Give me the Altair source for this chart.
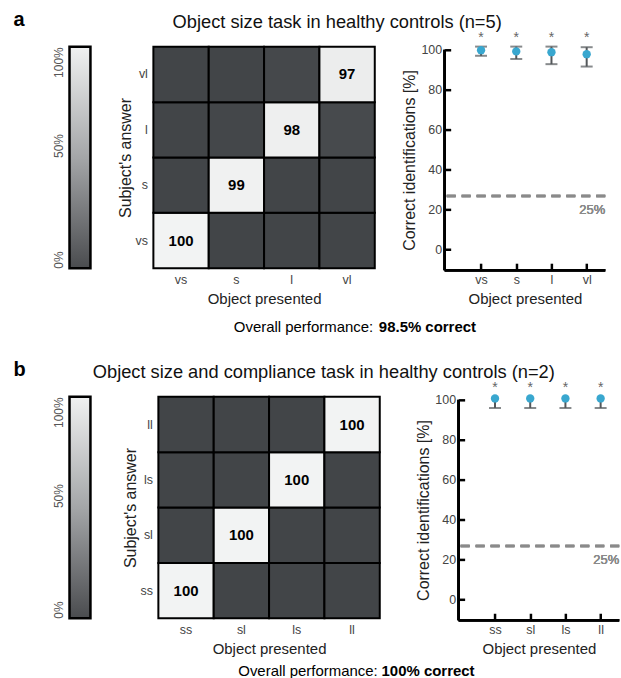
import altair as alt
import pandas as pd

# ---------------- data ----------------
cats_a = ["vs", "s", "l", "vl"]
cats_b = ["ss", "sl", "ls", "ll"]

# confusion matrices (percent); rows = subject's answer, columns = object presented
conf_a = [
    [100, 0, 0, 0],   # answer vs
    [0, 99, 0, 0],    # answer s
    [0, 1, 98, 3],    # answer l
    [0, 0, 2, 97],    # answer vl
]
conf_b = [
    [100, 0, 0, 0],   # answer ss
    [0, 100, 0, 0],   # answer sl
    [0, 0, 100, 0],   # answer ls
    [0, 0, 0, 100],   # answer ll
]

# correct identifications (mean, upper and lower whisker)
mean_a = [99.8, 99.2, 98.8, 97.8]
upper_a = [101.6, 101.6, 101.6, 101.3]
lower_a = [97.0, 95.4, 92.8, 91.6]
mean_b = [100.7, 100.7, 100.7, 100.7]
upper_b = [100.7, 100.7, 100.7, 100.7]
lower_b = [95.9, 95.9, 95.9, 95.9]

chance_level = 26.7
chance_text = "25%"
star_level = 106
y_ticks = [0, 20, 40, 60, 80, 100]
colorbar_ticks = [0, 50, 100]

title_a = "Object size task in healthy controls (n=5)"
title_b = "Object size and compliance task in healthy controls (n=2)"
overall_label = "Overall performance:"
overall_a = "98.5% correct"
overall_b = "100% correct"

FONT = "Liberation Sans"
GRID = 222
SC_W = 161
SC_H = 224
CB_W = 21
DARK = "#424548"
LIGHT = "#f2f3f3"
ERR = "#54585b"
DOT = "#39a7cf"


def colorbar(label, title, title_x):
    df = pd.DataFrame({"lo": [0], "hi": [100]})
    grad = alt.LinearGradient(
        gradient="linear",
        stops=[alt.GradientStop(color="#4a4c4f", offset=0),
               alt.GradientStop(color="#a4a6a8", offset=0.5),
               alt.GradientStop(color="#f0f1f1", offset=1)],
        x1=0, x2=0, y1=1, y2=0,
    )
    return alt.Chart(df).mark_rect(fill=grad, stroke="black", strokeWidth=2.5).encode(
        x=alt.X("lo:Q", scale=alt.Scale(domain=[0, 100], nice=False),
                axis=alt.Axis(orient="top", labels=False, ticks=False, domain=False, grid=False,
                              title=title, titleX=title_x, titleY=-19.4, titleAlign="center",
                              titleBaseline="alphabetic", titleFontSize=18.3,
                              titleFontWeight="normal", titleColor="#111", titleLimit=1000)),
        x2="hi:Q",
        y=alt.Y("lo:Q", scale=alt.Scale(domain=[0, 100], nice=False),
                axis=alt.Axis(values=colorbar_ticks, labelExpr="datum.value + '%'",
                              domain=False, ticks=False, grid=False,
                              labelAngle=270,
                              labelAlign=alt.condition("datum.value == 100", alt.value("right"), alt.value("left")),
                              labelBaseline="bottom", labelPadding=4, labelFontSize=12,
                              labelColor="#555", labelOverlap=False,
                              title=label, titleAngle=0, titleX=-56.7, titleY=-21,
                              titleAlign="left", titleBaseline="alphabetic", titleFontSize=20,
                              titleFontWeight="bold", titleColor="black")),
        y2="hi:Q",
    ).properties(width=CB_W, height=GRID)


def heatmap(cats, conf, hw, overall_dx, overall_offset):
    rows = []
    for i, ans in enumerate(cats):
        for j, pres in enumerate(cats):
            rows.append({"presented": pres, "answer": ans, "value": conf[i][j]})
    df = pd.DataFrame(rows)
    base = alt.Chart(df).encode(
        x=alt.X("presented:N", sort=cats,
                scale=alt.Scale(domain=cats, range=[0, GRID], paddingInner=0, paddingOuter=0),
                axis=alt.Axis(title="Object presented", domain=False, ticks=False, labelAngle=0,
                              labelPadding=5, titlePadding=6, titleX=GRID / 2,
                              labelFontSize=12.5, labelColor="#444", titleFontSize=15,
                              titleFontWeight="normal", titleColor="#222")),
        y=alt.Y("answer:N", sort=cats[::-1],
                scale=alt.Scale(domain=cats[::-1], paddingInner=0, paddingOuter=0),
                axis=alt.Axis(title="Subject's answer", domain=False, ticks=False,
                              labelPadding=6, titlePadding=1, labelFontSize=12.5,
                              labelColor="#444", titleFontSize=16, titleFontWeight="normal",
                              titleColor="#222")),
    )
    rect = base.mark_rect(stroke="black", strokeWidth=2).encode(
        color=alt.Color("value:Q", scale=alt.Scale(domain=[0, 100], range=[DARK, LIGHT]), legend=None)
    )
    text = base.mark_text(fontWeight="bold", fontSize=15, color="black").encode(
        text="value:Q"
    ).transform_filter("datum.value >= 50")
    return (rect + text).properties(
        width=hw, height=GRID,
        title=alt.TitleParams(overall_label, orient="bottom", anchor="end", frame="group",
                              dx=overall_dx, offset=overall_offset, fontSize=15,
                              fontWeight="normal", baseline="alphabetic", color="black"),
    )


def scatter(cats, means, uppers, lowers, bold_text, bold_dx, bold_offset):
    df = pd.DataFrame({"cat": cats, "mean": means, "hi": uppers, "lo": lowers})
    yscale = alt.Scale(domain=[-10.5, 100], range=[SC_H, 3], nice=False, zero=False)
    xscale = alt.Scale(type="point", domain=cats, padding=0.78, align=0.662)
    xaxis = alt.Axis(title="Object presented", domain=False, tickSize=7, tickWidth=2.5,
                     tickColor="black", offset=-7, labelAngle=0, labelPadding=3,
                     titlePadding=6, labelFontSize=12.5, labelColor="#444",
                     titleFontSize=15, titleFontWeight="normal", titleColor="#222")
    yaxis = alt.Axis(values=y_ticks, title="Correct identifications [%]", domain=False,
                     tickSize=6, tickWidth=2.5, tickColor="black", offset=-6,
                     labelPadding=3, titlePadding=3, grid=False, labelFontSize=12.5,
                     labelColor="#444", titleFontSize=16, titleFontWeight="normal",
                     titleColor="#222")
    base = alt.Chart(df)
    xe = alt.X("cat:N", sort=cats, scale=xscale, axis=xaxis)
    dots = base.mark_circle(size=70, color=DOT, opacity=1).encode(
        x=xe, y=alt.Y("mean:Q", scale=yscale, axis=yaxis))
    bars = base.mark_rule(color=ERR, strokeWidth=2).encode(
        x=xe, y=alt.Y("lo:Q", scale=yscale, axis=yaxis), y2="hi:Q")
    cap_lo = base.mark_tick(color=ERR, size=12, thickness=2).encode(
        x=xe, y=alt.Y("lo:Q", scale=yscale, axis=yaxis))
    cap_hi = base.mark_tick(color=ERR, size=12, thickness=2).encode(
        x=xe, y=alt.Y("hi:Q", scale=yscale, axis=yaxis)).transform_filter("datum.hi > datum.mean")
    stars = base.mark_text(text="*", fontSize=14, color="#666", baseline="middle").encode(
        x=xe, y=alt.Y(datum=star_level, scale=yscale, axis=yaxis))
    chance = base.mark_rule(color="#8a8a8a", strokeWidth=2.5, strokeDash=[9, 6]).encode(
        y=alt.Y(datum=chance_level, scale=yscale, axis=yaxis))
    chance_lbl = base.mark_text(align="right", baseline="middle", color="#8a8a8a",
                                fontSize=13, dy=14).encode(
        x=alt.value(SC_W), y=alt.Y(datum=chance_level, scale=yscale, axis=yaxis),
        text=alt.value(chance_text))
    x_line = base.mark_rule(color="black", strokeWidth=2.5).encode(
        y=alt.Y(datum=-10.5, scale=yscale, axis=yaxis))
    y_line = base.mark_rule(color="black", strokeWidth=2.5).encode(
        x=alt.value(0), y=alt.Y(datum=-10.5, scale=yscale, axis=yaxis), y2=alt.datum(100))
    return alt.layer(chance, chance_lbl, x_line, y_line, bars, cap_lo, cap_hi, dots, stars).properties(
        width=SC_W, height=SC_H,
        title=alt.TitleParams(bold_text, orient="bottom", anchor="start", frame="group",
                              dx=bold_dx, offset=bold_offset, fontSize=15, fontWeight="bold",
                              baseline="alphabetic", color="black"),
    )


def row(label, title, title_x, cats, conf, means, uppers, lowers, bold_text, spacing, hw,
        overall_dx, bold_dx, bottom_shift):
    return alt.hconcat(
        colorbar(label, title, title_x),
        heatmap(cats, conf, hw, overall_dx, 25.5 + bottom_shift),
        scatter(cats, means, uppers, lowers, bold_text, bold_dx, 25.3 + bottom_shift),
        spacing=spacing, bounds="flush",
    )


row_a = row("a", title_a, 267.9, cats_a, conf_a, mean_a, upper_a, lower_a, overall_a,
            63.1, 228.4, -7.9, -66, 0)
row_b = row("b", title_b, 254.5, cats_b, conf_b, mean_b, upper_b, lower_b, overall_b,
            68.1, 232.7, -12.7, -77.3, -6)

chart = alt.vconcat(row_a, row_b, spacing=25).properties(
    padding={"left": 12.7, "top": 9, "right": 0, "bottom": 0}
).configure(font=FONT).configure_view(strokeOpacity=0).configure_axis(grid=False)

chart.save("out.html", embed_options={"renderer": "svg", "actions": False})
